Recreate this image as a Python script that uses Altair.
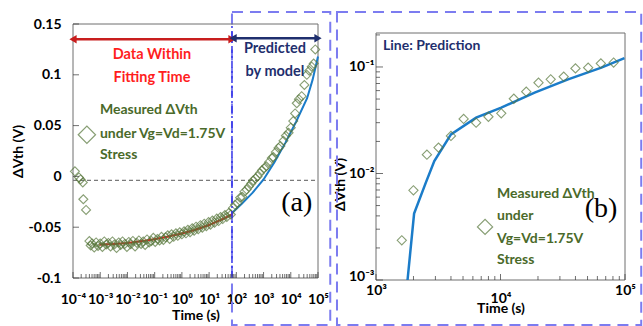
import altair as alt
import pandas as pd

# ---------------- Panel (a) data ----------------
a_exp = [-3.93, -3.78, -3.72, -3.64, -3.62, -3.52,
         -3.40, -3.35, -3.30, -3.22, -3.15, -3.08, -3.00, -2.92, -2.85, -2.78,
         -2.70, -2.62, -2.55, -2.48, -2.40, -2.32, -2.25, -2.18, -2.10, -2.02,
         -1.95, -1.88, -1.80, -1.72, -1.65, -1.58, -1.50, -1.42, -1.35, -1.28,
         -1.20, -1.12, -1.05, -0.98, -0.90, -0.82, -0.75, -0.68, -0.60, -0.52,
         -0.45, -0.38, -0.30, -0.22, -0.15, -0.08, 0.00, 0.08, 0.15, 0.22,
         0.30, 0.38, 0.45, 0.52, 0.60, 0.68, 0.75, 0.82, 0.90, 0.98,
         1.05, 1.12, 1.20, 1.28, 1.35, 1.42, 1.50, 1.58, 1.65, 1.72, 1.80,
         1.88, 1.95, 2.05, 2.14, 2.22, 2.30, 2.38, 2.46, 2.55, 2.62, 2.70,
         2.78, 2.86, 2.94, 3.02, 3.10, 3.20, 3.30, 3.36, 3.45, 3.55, 3.62,
         3.73, 3.82, 3.92, 4.00, 4.09, 4.16, 4.22, 4.30, 4.40, 4.50, 4.59,
         4.68, 4.77, 4.84, 4.90]
a_dvth = [0.005, -0.001, -0.003, -0.006, -0.0225, -0.033,
          -0.0636, -0.068, -0.066, -0.070, -0.065, -0.0685, -0.066, -0.0695, -0.064, -0.067,
          -0.0655, -0.069, -0.064, -0.067, -0.0705, -0.065, -0.0675, -0.064, -0.0665, -0.0695,
          -0.0645, -0.0668, -0.0635, -0.069, -0.0655, -0.063, -0.0665, -0.064, -0.0675, -0.062,
          -0.065, -0.0635, -0.0605, -0.0645, -0.0615, -0.063, -0.0595, -0.0625, -0.060, -0.058,
          -0.0615, -0.057, -0.0595, -0.056, -0.0585, -0.055, -0.057, -0.054, -0.056, -0.0525,
          -0.055, -0.051, -0.0535, -0.0495, -0.052, -0.048, -0.0505, -0.0465, -0.049, -0.045,
          -0.0475, -0.0435, -0.0455, -0.0415, -0.044, -0.040, -0.042, -0.038, -0.040, -0.036, -0.0375,
          -0.031, -0.028, -0.026, -0.021, -0.020, -0.015, -0.013, -0.010, -0.007, -0.004, -0.002,
          0.000, 0.003, 0.006, 0.008, 0.010, 0.014, 0.018, 0.019, 0.024, 0.028, 0.030,
          0.035, 0.040, 0.043, 0.048, 0.0545, 0.062, 0.072, 0.076, 0.079, 0.090, 0.100,
          0.104, 0.108, 0.111, 0.125]
fit_exp = [-3.0, -2.5, -2.0, -1.5, -1.0, -0.5, 0.0, 0.5, 1.0, 1.5, 1.84]
fit_dvth = [-0.067, -0.0665, -0.0655, -0.0638, -0.0618, -0.0592, -0.0562, -0.0525, -0.0478, -0.042, -0.0375]
pred_exp = [1.84, 2.2, 2.6, 3.0, 3.4, 3.8, 4.2, 4.6, 4.8, 5.0]
pred_dvth = [-0.036, -0.027, -0.016, -0.003, 0.014, 0.033, 0.054, 0.077, 0.095, 0.118]

split_exp = 1.84          # boundary of fitting time
zero_line = -0.004        # dashed reference line

# ---------------- Panel (b) data ----------------
b_t = [1611, 1998, 2564, 3177, 4000, 5058, 6370, 8000, 10140, 12800, 16100,
       20200, 25300, 32200, 40000, 50600, 64000, 81000]
b_dvth = [0.00236, 0.00695, 0.0150, 0.0175, 0.0225, 0.0325, 0.030, 0.0341, 0.0367,
          0.0503, 0.0586, 0.0712, 0.0766, 0.081, 0.097, 0.0986, 0.108, 0.110]
bl_t = [1792, 2023, 2513, 2940, 4000, 6370, 10140, 18800, 34900, 64600, 99000]
bl_v = [0.001, 0.0042, 0.0082, 0.0131, 0.0233, 0.0334, 0.0415, 0.0574, 0.0766, 0.0986, 0.121]
b_ytop = 0.2084           # top of panel (b) frame

FONT = "Lato"
GREEN_TXT = "#4a6a2a"
DIAMOND = "#56763a"
RED = "#e0201c"
NAVY = "#1f2f6e"
BLUE = "#1b7cc9"
BOX = "#7c7cf0"
FRAME = "#6e6e6e"

SUP = ("'10' + replace(replace(replace(replace(replace(replace(replace("
       "toString(round(log(datum.value)/LN10)),'-','⁻'),'0','⁰'),'1','¹'),'2','²'),"
       "'3','³'),'4','⁴'),'5','⁵')")


def ax(**kw):
    return alt.Axis(grid=False, ticks=False, tickSize=0, domain=False, labelFont=FONT,
                    labelFontWeight="bold", labelFontSize=14, labelColor="black",
                    titleFont=FONT, titleFontWeight="bold", titleFontSize=14,
                    titleColor="black", labelOverlap=False, labelFlush=False, **kw)


# ================= Panel (a) =================
ax_x = alt.X("t:Q", scale=alt.Scale(type="log", domain=[1e-4, 1e5], nice=False),
             axis=ax(values=[10.0 ** e for e in range(-4, 6)], labelExpr=SUP,
                     labelPadding=14, title="Time (s)", titlePadding=2))
ax_y = alt.Y("v:Q", scale=alt.Scale(domain=[-0.1, 0.15], nice=False, zero=False),
             axis=ax(values=[-0.1, -0.05, 0, 0.05, 0.1, 0.15], labelExpr="'' + datum.value",
                     labelPadding=12, title="ΔVth (V)", titlePadding=3))

pts_a = pd.DataFrame({"t": [10 ** e for e in a_exp], "v": a_dvth})
fit_a = pd.DataFrame({"t": [10 ** e for e in fit_exp], "v": fit_dvth})
pred_a = pd.DataFrame({"t": [10 ** e for e in pred_exp], "v": pred_dvth})

a_frame = alt.Chart(pd.DataFrame({"t": [1e-4], "t2": [1e5], "v": [-0.1], "v2": [0.15]})).mark_rect(
    fill=None, stroke=FRAME, strokeWidth=1).encode(x=ax_x, x2="t2:Q", y=ax_y, y2="v2:Q")
a_points = alt.Chart(pts_a).mark_point(shape="diamond", filled=False, size=80,
                                       strokeWidth=1.1, color=DIAMOND).encode(x=ax_x, y=ax_y)
a_fit = alt.Chart(fit_a).mark_line(color=RED, strokeWidth=2).encode(x=ax_x, y=ax_y)
a_fit_dots = alt.Chart(fit_a).mark_point(color=RED, filled=True, size=6).encode(x=ax_x, y=ax_y)
a_pred = alt.Chart(pred_a).mark_line(color=BLUE, strokeWidth=2).encode(x=ax_x, y=ax_y)

a_zero = alt.Chart(pd.DataFrame({"t": [1e-4], "t2": [1e5], "v": [zero_line]})).mark_rule(
    color="#7a7a7a", strokeDash=[4, 3], strokeWidth=1.3).encode(x=ax_x, x2="t2:Q", y=ax_y)

a_box = alt.Chart(pd.DataFrame({"t": [10 ** split_exp], "t2": [10 ** 5.45],
                                "v": [0.1618], "v2": [-0.1463]})).mark_rect(
    fill=None, stroke=BOX, strokeWidth=2, strokeDash=[11, 7], clip=False).encode(
    x=ax_x, x2="t2:Q", y=ax_y, y2="v2:Q")
a_split = alt.Chart(pd.DataFrame({"t": [10 ** split_exp], "v": [-0.1], "v2": [0.15]})).mark_rule(
    color="#3535e8", strokeDash=[7, 3, 2, 3], strokeWidth=1.5).encode(x=ax_x, y=ax_y, y2="v2:Q")

# arrows
red_arrow = pd.DataFrame({"t": [1e-4], "t2": [10 ** split_exp], "v": [0.135]})
navy_arrow = pd.DataFrame({"t": [10 ** 1.88], "t2": [1e5], "v": [0.136]})
a_rarrow = alt.Chart(red_arrow).mark_rule(color="#c81e1e", strokeWidth=2.5).encode(
    x=ax_x, x2="t2:Q", y=ax_y)
a_narrow = alt.Chart(navy_arrow).mark_rule(color=NAVY, strokeWidth=2.5).encode(
    x=ax_x, x2="t2:Q", y=ax_y)
heads = pd.DataFrame({
    "t": [1e-4, 10 ** split_exp, 10 ** 1.88, 1e5],
    "v": [0.135, 0.135, 0.136, 0.136],
    "shape": ["triangle-left", "triangle-right", "triangle-left", "triangle-right"],
    "col": ["#c81e1e", "#c81e1e", NAVY, NAVY],
    "dx": [4, -4, 4, -4],
})
a_heads = alt.Chart(heads).mark_point(filled=True, size=70, opacity=1).encode(
    x=ax_x, y=ax_y, shape=alt.Shape("shape:N", scale=None),
    color=alt.Color("col:N", scale=None), xOffset=alt.XOffset("dx:Q", scale=None))

# texts
txt_a = pd.DataFrame({
    "t": [10 ** -1.10, 10 ** -1.10, 10 ** 3.42, 10 ** 3.42],
    "v": [0.1195, 0.0969, 0.125, 0.103],
    "s": ["Data Within", "Fitting Time", "Predicted", "by model"],
    "col": ["#ff1e1e", "#ff1e1e", NAVY, NAVY],
})
a_txt = alt.Chart(txt_a).mark_text(font=FONT, fontWeight="bold", fontSize=14.5,
                                   align="center", baseline="middle").encode(
    x=ax_x, y=ax_y, text="s:N", color=alt.Color("col:N", scale=None))
leg_a = pd.DataFrame({"t": [10 ** -3.01] * 3, "v": [0.065, 0.0414, 0.021],
                      "s": ["Measured ΔVth", "under Vg=Vd=1.75V", "Stress"]})
a_leg_txt = alt.Chart(leg_a).mark_text(font=FONT, fontWeight="bold", fontSize=14,
                                       align="left", baseline="middle", color=GREEN_TXT).encode(
    x=ax_x, y=ax_y, text="s:N")
a_leg_pt = alt.Chart(pd.DataFrame({"t": [10 ** -3.49], "v": [0.041]})).mark_point(
    shape="diamond", filled=False, size=300, strokeWidth=1.2, color=DIAMOND).encode(x=ax_x, y=ax_y)
a_label = alt.Chart(pd.DataFrame({"t": [10 ** 4.22], "v": [-0.026], "s": ["(a)"]})).mark_text(
    font="Liberation Serif", fontSize=28, color="black", align="center", baseline="middle").encode(
    x=ax_x, y=ax_y, text="s:N")

# inward ticks
xt = [(k * 10.0 ** d, 6 if k == 1 else 4) for d in range(-4, 5) for k in range(1, 10)] + [(1e5, 6)]
a_xticks = alt.Chart(pd.DataFrame({"t": [p[0] for p in xt], "len": [p[1] for p in xt]})).mark_tick(
    orient="vertical", color="#333", thickness=1).encode(
    x=ax_x, y=alt.datum(-0.1), size=alt.Size("len:Q", scale=None),
    yOffset=alt.YOffset("off:Q", scale=None)).transform_calculate(off="-datum.len/2")
a_yticks = alt.Chart(pd.DataFrame({"v": [-0.1, -0.05, 0, 0.05, 0.1, 0.15]})).mark_tick(
    orient="horizontal", color="#333", thickness=1, size=6, xOffset=3).encode(
    y=ax_y, x=alt.datum(1e-4))

panel_a = alt.layer(a_box, a_frame, a_zero, a_fit, a_fit_dots, a_pred, a_points, a_split,
                    a_rarrow, a_narrow, a_heads, a_txt, a_leg_txt, a_leg_pt, a_label,
                    a_xticks, a_yticks).properties(width=245, height=254)

# ================= Panel (b) =================
bx = alt.X("t:Q", scale=alt.Scale(type="log", domain=[1e3, 1e5], nice=False),
           axis=ax(values=[1e3, 1e4, 1e5], labelExpr=SUP,
                   labelPadding={"condition": {"test": "datum.value == 10000", "value": 11},
                                 "value": 3},
                   title="Time (s)", titlePadding=-4))
by = alt.Y("v:Q", scale=alt.Scale(type="log", domain=[1e-3, 0.2532], nice=False),
           axis=ax(values=[1e-3, 1e-2, 1e-1], labelExpr=SUP, labelPadding=2,
                   labelOffset={"condition": {"test": "datum.value < 0.002", "value": -4},
                                "value": 0},
                   title="ΔVth (V)", titlePadding=1, titleY=160))

b_frame = alt.Chart(pd.DataFrame({"t": [1e3], "t2": [1e5], "v": [1e-3], "v2": [b_ytop]})).mark_rect(
    fill=None, stroke=FRAME, strokeWidth=1).encode(x=bx, x2="t2:Q", y=by, y2="v2:Q")
b_pts = alt.Chart(pd.DataFrame({"t": b_t, "v": b_dvth})).mark_point(
    shape="diamond", filled=False, size=85, strokeWidth=1.1, color=DIAMOND).encode(x=bx, y=by)
b_line = alt.Chart(pd.DataFrame({"t": bl_t, "v": bl_v})).mark_line(
    color=BLUE, strokeWidth=2.5).encode(x=bx, y=by)
b_box = alt.Chart(pd.DataFrame({"t": [486.0], "t2": [135000.0],
                                "v": [0.328], "v2": [0.000378]})).mark_rect(
    fill=None, stroke=BOX, strokeWidth=2, strokeDash=[11, 7], clip=False).encode(
    x=bx, x2="t2:Q", y=by, y2="v2:Q")
b_title = alt.Chart(pd.DataFrame({"t": [10 ** 3.056], "v": [0.157], "s": ["Line: Prediction"]})).mark_text(
    font=FONT, fontWeight="bold", fontSize=14, color=NAVY, align="left", baseline="middle").encode(
    x=bx, y=by, text="s:N")
leg_b = pd.DataFrame({"t": [10 ** 3.972] * 4, "v": [0.00643, 0.00399, 0.00243, 0.00154],
                      "s": ["Measured ΔVth", "under", "Vg=Vd=1.75V", "Stress"]})
b_leg_txt = alt.Chart(leg_b).mark_text(font=FONT, fontWeight="bold", fontSize=14,
                                       align="left", baseline="middle", color=GREEN_TXT).encode(
    x=bx, y=by, text="s:N")
b_leg_pt = alt.Chart(pd.DataFrame({"t": [10 ** 3.876], "v": [0.00315]})).mark_point(
    shape="diamond", filled=False, size=230, strokeWidth=1.2, color=DIAMOND).encode(x=bx, y=by)
b_label = alt.Chart(pd.DataFrame({"t": [10 ** 4.807], "v": [0.00465], "s": ["(b)"]})).mark_text(
    font="Liberation Serif", fontSize=28, color="black", align="center", baseline="middle").encode(
    x=bx, y=by, text="s:N")
bxt = [(k * 10.0 ** d, 6 if k == 1 else 4) for d in range(3, 5) for k in range(1, 10)] + [(1e5, 6)]
b_xticks = alt.Chart(pd.DataFrame({"t": [p[0] for p in bxt], "len": [p[1] for p in bxt]})).mark_tick(
    orient="vertical", color="#333", thickness=1).encode(
    x=bx, y=alt.datum(1e-3), size=alt.Size("len:Q", scale=None),
    yOffset=alt.YOffset("off:Q", scale=None)).transform_calculate(off="-datum.len/2")
byt = [(k * 10.0 ** d, 7 if k == 1 else 4) for d in range(-3, 0) for k in range(1, 10)
       if k * 10.0 ** d <= b_ytop]
b_yticks = alt.Chart(pd.DataFrame({"v": [p[0] for p in byt], "len": [p[1] for p in byt]})).mark_tick(
    orient="horizontal", color="#333", thickness=1).encode(
    y=by, x=alt.datum(1e3), size=alt.Size("len:Q", scale=None),
    xOffset=alt.XOffset("off:Q", scale=None)).transform_calculate(off="datum.len/2")

panel_b = alt.layer(b_box, b_frame, b_line, b_pts, b_title, b_leg_txt, b_leg_pt, b_label,
                    b_xticks, b_yticks).properties(width=249, height=256)

chart = alt.hconcat(panel_a, panel_b, spacing=1).resolve_scale(
    x="independent", y="independent").configure_view(
    stroke=None).properties(
    padding={"left": 11, "top": 11, "right": 0, "bottom": 0}, background="white")

chart.save("out.html", embed_options={"renderer": "svg", "actions": False})
